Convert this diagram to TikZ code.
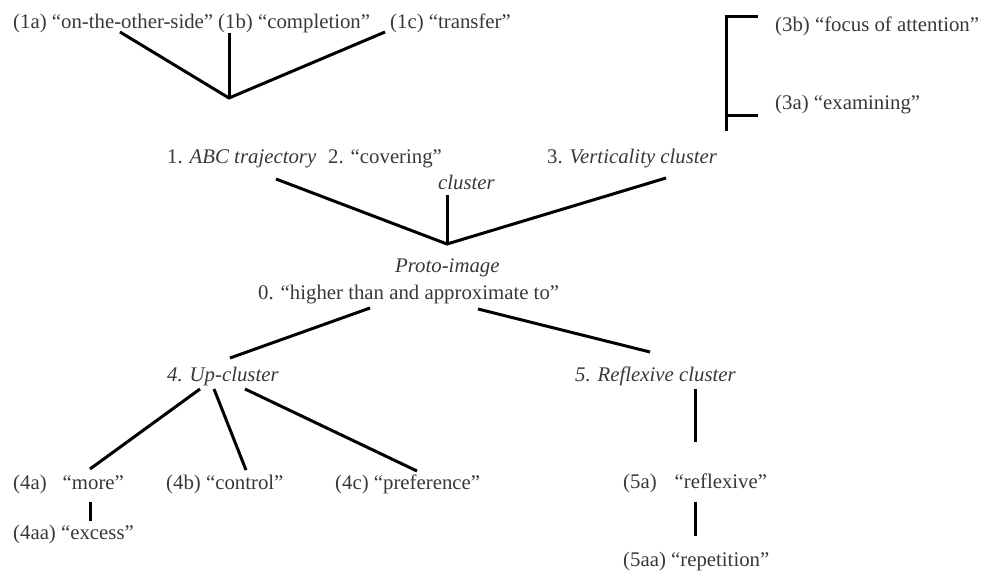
\documentclass[tikz,border=0pt]{standalone}
\usepackage{fontspec}
\setmainfont{Liberation Serif}[ItalicFont={Liberation Serif Italic},BoldFont={Liberation Serif Bold}]
\begin{document}
\begin{tikzpicture}[x=1pt,y=-1pt,
  lbl/.style={anchor=base west,inner sep=0pt,text=black!78,font=\fontsize{20.8}{25}\selectfont},
  conn/.style={line width=3pt,black}]
\useasboundingbox (0,0) rectangle (995,574);
% labels
\node[lbl] (n1a) at (13,28) {(1a) “on-the-other-side”};
\node[lbl] (n1b) at (218,28) {(1b) “completion”};
\node[lbl] (n1c) at (390,28) {(1c) “transfer”};
\node[lbl] (n3b) at (775,31) {(3b) “focus of attention”};
\node[lbl] (n3a) at (775,109) {(3a) “examining”};
\node[lbl] (n1) at (167,163) {1. \textit{ABC trajectory}};
\node[lbl] (n2) at (328,163) {2. “covering”};
\node[lbl] (n2c) at (438,189) {\textit{cluster}};
\node[lbl] (n3) at (547,163) {3. \textit{Verticality cluster}};
\node[lbl] (proto) at (395,272) {\textit{Proto-image}};
\node[lbl] (n0) at (258,299) {0. “higher than and approximate to”};
\node[lbl] (n4) at (167,381) {\textit{4. Up-cluster}};
\node[lbl] (n5) at (575,381) {\textit{5. Reflexive cluster}};
\node[lbl] (n4a) at (13,489) {(4a)\hspace{16pt}“more”};
\node[lbl] (n4b) at (166,489) {(4b) “control”};
\node[lbl] (n4c) at (335,489) {(4c) “preference”};
\node[lbl] (n4aa) at (13,539) {(4aa) “excess”};
\node[lbl] (n5a) at (623,488) {(5a)\hspace{18pt}“reflexive”};
\node[lbl] (n5aa) at (623,566) {(5aa) “repetition”};
% connector end points
\coordinate (j1) at (229,98);
\coordinate (a1) at (120,32);
\coordinate (b1) at (229,33);
\coordinate (c1) at (385,32);
\coordinate (br1) at (758,16);
\coordinate (br2) at (726,16);
\coordinate (br3) at (726,131);
\coordinate (br4) at (726,115);
\coordinate (br5) at (758,115);
\coordinate (j2) at (447,244);
\coordinate (a2) at (276,179);
\coordinate (b2) at (447,195);
\coordinate (c2) at (666,178);
\coordinate (l0a) at (370,308);
\coordinate (l0b) at (230,358);
\coordinate (r0a) at (478,309);
\coordinate (r0b) at (650,352);
\coordinate (u1) at (200,389);
\coordinate (u2) at (214,389);
\coordinate (u3) at (245,389);
\coordinate (e4a) at (90,469);
\coordinate (e4b) at (246,470);
\coordinate (e4c) at (417,471);
\coordinate (m1) at (90,502);
\coordinate (m2) at (90,521);
\coordinate (r1) at (695,389);
\coordinate (r2) at (695,442);
\coordinate (r3) at (695,502);
\coordinate (r4) at (695,536);
% connectors
\draw[conn] (a1) -- (j1) -- (c1);
\draw[conn] (b1) -- (j1);
\draw[conn] (br1) -- (br2) -- (br3);
\draw[conn] (br4) -- (br5);
\draw[conn] (a2) -- (j2) -- (c2);
\draw[conn] (b2) -- (j2);
\draw[conn] (l0a) -- (l0b);
\draw[conn] (r0a) -- (r0b);
\draw[conn] (u1) -- (e4a);
\draw[conn] (u2) -- (e4b);
\draw[conn] (u3) -- (e4c);
\draw[conn] (m1) -- (m2);
\draw[conn] (r1) -- (r2);
\draw[conn] (r3) -- (r4);
\end{tikzpicture}
\end{document}
